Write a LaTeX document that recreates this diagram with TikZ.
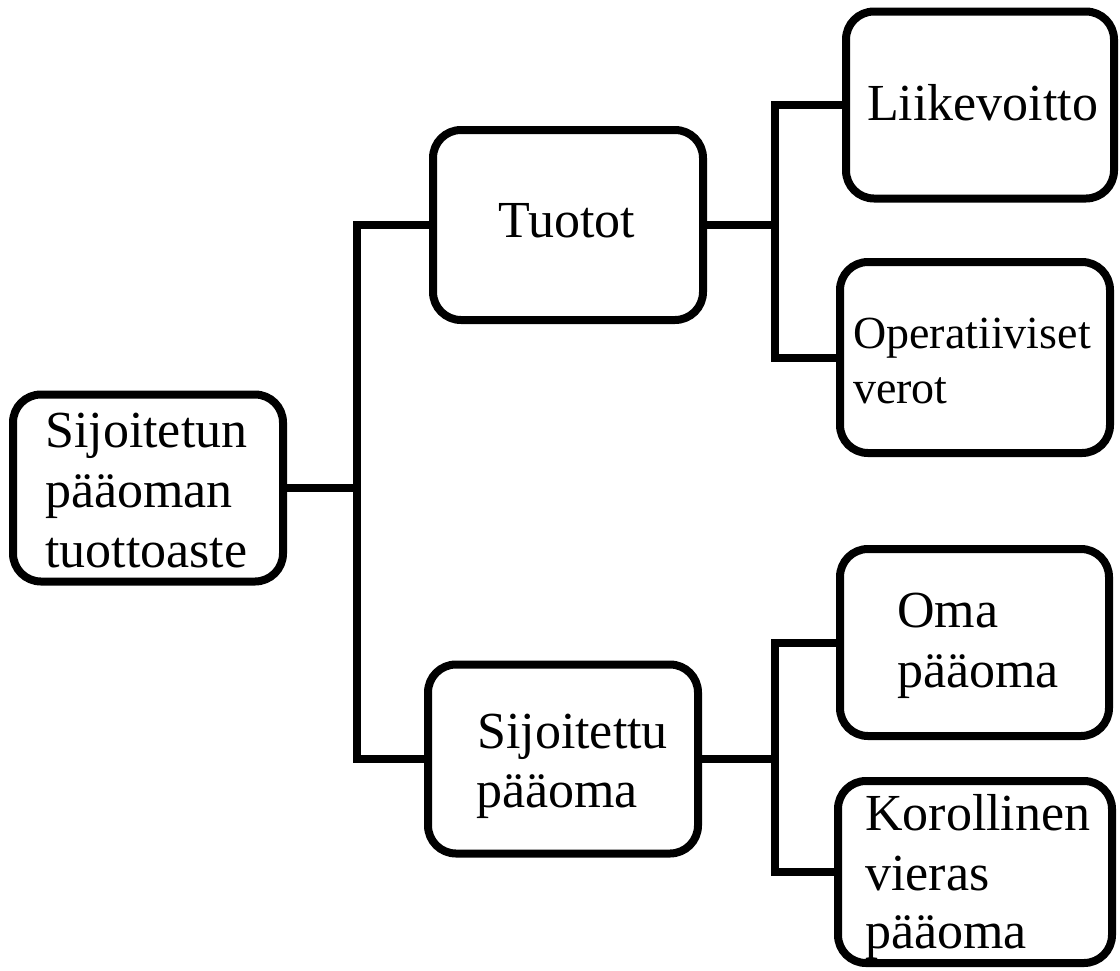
\documentclass[tikz,border=0pt]{standalone}
\usepackage{fontspec}
\setmainfont{Liberation Serif}
\begin{document}
\begin{tikzpicture}[x=1pt,y=-1pt,
  box/.style={draw=black, line width=8pt, rounded corners=28pt, inner sep=0pt, outer sep=0pt, fill=white},
  conn/.style={draw=black, line width=8pt, line join=miter},
  txt/.style={anchor=base west, inner sep=0pt, font=\fontsize{52}{60}\selectfont},
  txts/.style={anchor=base west, inner sep=0pt, font=\fontsize{46}{55}\selectfont}]
\useasboundingbox (0,0) rectangle (1120,970);
% boxes
\node[box, minimum width=270pt, minimum height=187pt] (root) at (148,488) {};
\node[box, minimum width=270pt, minimum height=190pt] (tuotot) at (568,225) {};
\node[box, minimum width=270pt, minimum height=189pt] (sij) at (563,759) {};
\node[box, minimum width=268pt, minimum height=187pt] (liike) at (980,105) {};
\node[box, minimum width=270pt, minimum height=191pt] (oper) at (975,357.5) {};
\node[box, minimum width=269pt, minimum height=187pt] (oma) at (974.5,642.5) {};
\node[box, minimum width=274pt, minimum height=182pt] (kor) at (975,872) {};
% junctions
\coordinate (ja) at (357,488);
\coordinate (jb) at (775,225);
\coordinate (jc) at (775,759);
% connectors
\draw[conn] (root.east) -- (ja);
\draw[conn] (tuotot.west) -| (ja) |- (sij.west);
\draw[conn] (tuotot.east) -- (jb);
\draw[conn] (liike.west) -| (jb) |- (oper.west);
\draw[conn] (sij.east) -- (jc);
\draw[conn] (oma.west) -| (jc) |- (kor.west);
% texts
\node[txt] (r1) at (45,447) {Sijoitetun};
\node[txt] (r2) at (45,507) {pääoman};
\node[txt] (r3) at (45,567) {tuottoaste};
\node[txt] (t1) at (498,237) {Tuotot};
\node[txt] (s1) at (477,748) {Sijoitettu};
\node[txt] (s2) at (476,807) {pääoma};
\node[txt] (l1) at (867,120) {Liikevoitto};
\node[txts] (o1) at (853,348) {Operatiiviset};
\node[txts] (o2) at (853,403) {verot};
\node[txt] (m1) at (897,627) {Oma};
\node[txt] (m2) at (897,687) {pääoma};
\node[txt] (k1) at (865,830) {Korollinen};
\node[txt] (k2) at (865,890) {vieras};
\node[txt] (k3) at (865,948) {pääoma};
\end{tikzpicture}
\end{document}
